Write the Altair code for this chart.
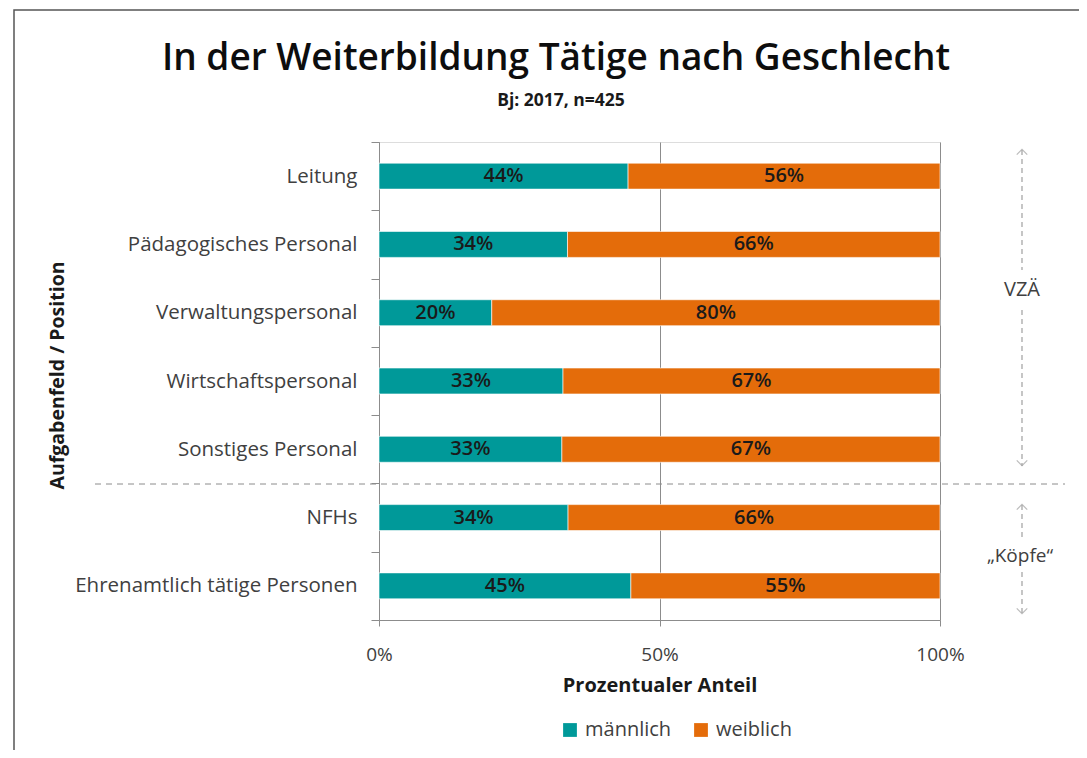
import altair as alt
import pandas as pd

categories = ["Leitung", "Pädagogisches Personal", "Verwaltungspersonal",
              "Wirtschaftspersonal", "Sonstiges Personal", "NFHs",
              "Ehrenamtlich tätige Personen"]
male = [44.4, 33.6, 20.1, 32.8, 32.6, 33.7, 44.9]
female = [100 - m for m in male]
series = ["männlich", "weiblich"]
colors = ["#009999", "#E46C0A"]
x_ticks = [0, 50, 100]
title_text = "In der Weiterbildung Tätige nach Geschlecht"
subtitle_text = "Bj: 2017, n=425"

rows = []
for c, m, f in zip(categories, male, female):
    rows.append({"cat": c, "sex": series[0], "start": 0, "end": m, "val": m,
                 "mid": m / 2, "label": f"{round(m)}%"})
    rows.append({"cat": c, "sex": series[1], "start": m, "end": 100, "val": f,
                 "mid": m + f / 2, "label": f"{round(f)}%"})
df = pd.DataFrame(rows)

FONT = "Open Sans"
GREY = "#8c8c8c"
TXT = "#404040"
DARK = "#1a1a1a"

yscale = alt.Scale(domain=categories, paddingInner=0, paddingOuter=0)
xscale = alt.Scale(domain=[0, 100], nice=False)

base = alt.Chart(df)

bars = base.mark_bar(stroke="white", strokeWidth=0.6,
                     height=alt.RelativeBandSize(0.38)).encode(
    y=alt.Y("cat:N", sort=categories, scale=yscale,
            axis=alt.Axis(title="Aufgabenfeld  / Position", tickBand="extent",
                          tickSize=8, tickColor=GREY, domainColor=GREY,
                          labelFontSize=20.5, labelColor=TXT, labelFont=FONT,
                          labelPadding=14, labelLimit=400,
                          titleFontSize=19.5, titleFont=FONT,
                          titleFontWeight="bold", titleColor=DARK,
                          titleX=-322, titleY=233, titleAngle=270,
                          titleAlign="center", titleBaseline="middle",
                          grid=False)),
    x=alt.X("start:Q", scale=xscale,
            axis=alt.Axis(title="Prozentualer Anteil", values=x_ticks,
                          labelExpr="datum.value + '%'", tickSize=6,
                          tickColor=GREY, domainColor=GREY, grid=True,
                          gridColor=GREY, gridWidth=1, labelFlush=False,
                          labelFontSize=19, labelColor=TXT, labelFont=FONT,
                          labelPadding=19, titleFontSize=20, titleFont=FONT,
                          titleFontWeight="bold", titleColor=DARK,
                          titlePadding=11)),
    x2="end:Q",
    color=alt.Color("sex:N", scale=alt.Scale(domain=series, range=colors),
                    legend=alt.Legend(title=None, orient="none", legendX=181,
                                      legendY=578, direction="horizontal",
                                      symbolType="square", symbolSize=190,
                                      symbolStrokeWidth=0, labelFontSize=20,
                                      labelFont=FONT, labelColor=TXT,
                                      columnPadding=19, labelOffset=5)),
)

labels = base.mark_text(fontSize=20, font=FONT, fontWeight=600,
                        color=DARK).encode(
    y=alt.Y("cat:N", sort=categories, scale=yscale),
    x=alt.X("mid:Q", scale=xscale),
    text="label:N",
)

one = alt.Data(values=[{"k": 1}])

border = alt.Chart(one).mark_rect(filled=False, stroke="#555555",
                                  strokeWidth=1.5).encode(
    x=alt.value(-365), x2=alt.value(760), y=alt.value(-132), y2=alt.value(700))

title = alt.Chart(one).mark_text(text=title_text, fontSize=37, font=FONT,
                                 fontWeight=600, color="#0d0d0d",
                                 baseline="alphabetic").encode(
    x=alt.value(177), y=alt.value(-72))
subtitle = alt.Chart(one).mark_text(text=subtitle_text, fontSize=17.5, font=FONT,
                                    fontWeight="bold", color=DARK,
                                    baseline="alphabetic").encode(
    x=alt.value(182), y=alt.value(-36))

sep = alt.Chart(one).mark_rule(color=GREY, strokeDash=[6, 5],
                               strokeWidth=1).encode(
    x=alt.value(-284), x2=alt.value(686), y=alt.value(342))

AX = 643
vlines = [(8, 128), (168, 324), (363, 398), (430, 472)]
vrules = [
    alt.Chart(one).mark_rule(color="#a0a0a0", strokeDash=[5, 4],
                             strokeWidth=1.2).encode(
        x=alt.value(AX), y=alt.value(a), y2=alt.value(b))
    for a, b in vlines
]
up = "M-1,0.7L0,-0.3L1,0.7"
down = "M-1,-0.7L0,0.3L1,-0.7"
heads = [(up, 9), (down, 322), (up, 364), (down, 470)]
arrows = [
    alt.Chart(one).mark_point(shape=s, filled=False, stroke="#a0a0a0",
                              strokeWidth=1.2, size=110).encode(
        x=alt.value(AX), y=alt.value(y))
    for s, y in heads
]
vza = alt.Chart(one).mark_text(text="VZÄ", fontSize=20, font=FONT,
                               color=TXT).encode(
    x=alt.value(AX), y=alt.value(148))
kopfe = alt.Chart(one).mark_text(text="„Köpfe“", fontSize=19, font=FONT,
                                 color=TXT).encode(
    x=alt.value(AX - 2), y=alt.value(414))

chart = alt.layer(border, bars, labels, sep, *vrules, *arrows, vza, kopfe,
                  title, subtitle).properties(
    width=561, height=478,
    padding={"left": 371, "top": 134, "right": 139, "bottom": 130},
    autosize="none",
).configure_view(stroke=None).configure(background="white")

chart.save("out.html", embed_options={"renderer": "svg", "actions": False})
